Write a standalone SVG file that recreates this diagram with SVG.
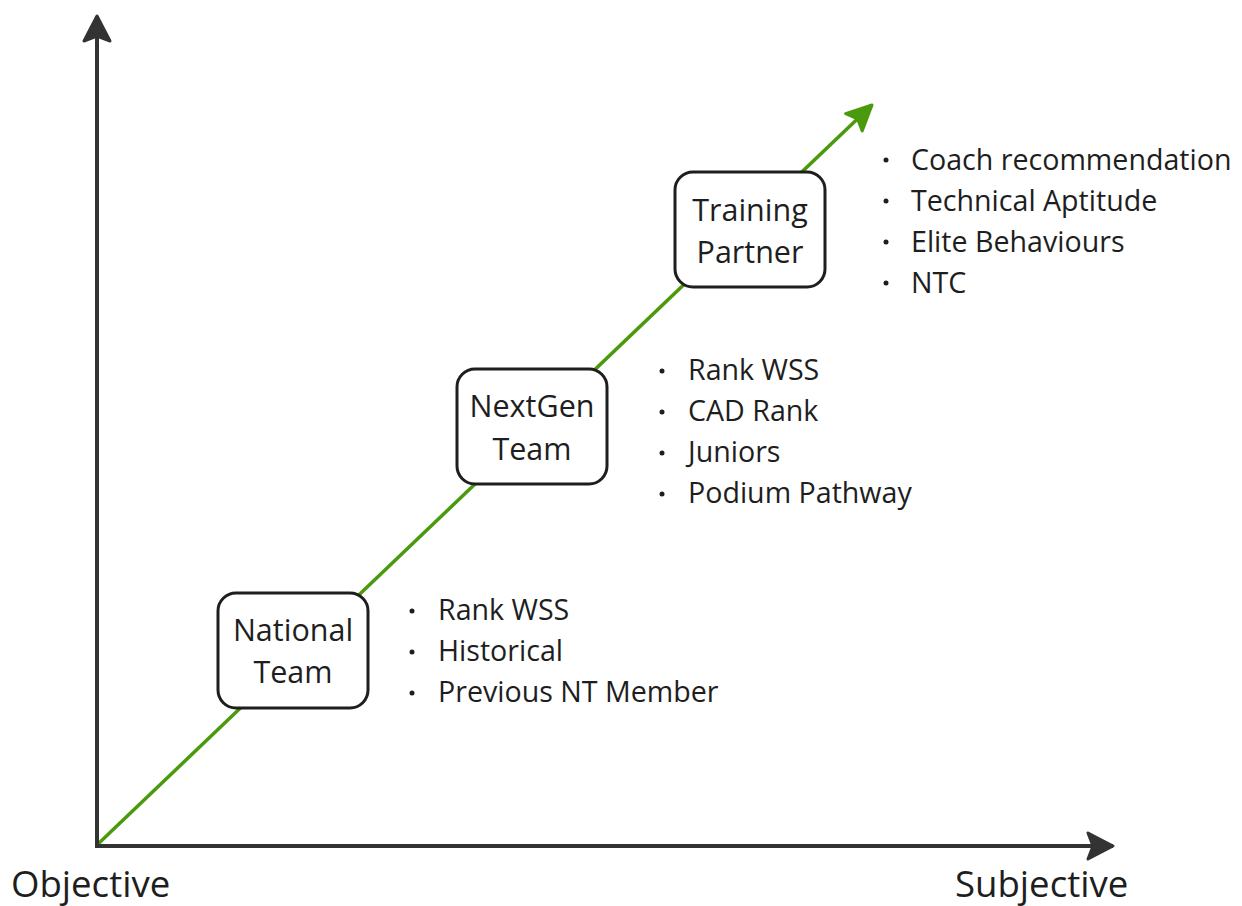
<svg xmlns="http://www.w3.org/2000/svg" width="1242" height="906" viewBox="0 0 1242 906">
  <style>
    .axis { stroke: #333333; stroke-width: 4; fill: none; }
    .trend { stroke: #4b9a0e; stroke-width: 3.5; fill: none; }
    .box { fill: #ffffff; stroke: #1e1e1e; stroke-width: 3; }
    .label { font-family: "Open Sans", "Liberation Sans", sans-serif; font-size: 30.5px; fill: #1e1e1e; text-anchor: middle; }
    .item { font-family: "Open Sans", "Liberation Sans", sans-serif; font-size: 28.6px; fill: #1e1e1e; }
    .axis-label { font-family: "Open Sans", "Liberation Sans", sans-serif; font-size: 36.6px; fill: #1e1e1e; }
    .dot { fill: #1e1e1e; }
  </style>
  <defs>
    <marker id="head-dark" markerUnits="userSpaceOnUse" markerWidth="40" markerHeight="40" viewBox="-4 -20 36 40" refX="25" refY="0" orient="auto">
      <path d="M 0 -13 L 25 0 L 0 13 L 5 0 Z" fill="#333333" stroke="#333333" stroke-width="3" stroke-linejoin="round"/>
    </marker>
    <marker id="head-green" markerUnits="userSpaceOnUse" markerWidth="40" markerHeight="40" viewBox="-4 -20 36 40" refX="25" refY="0" orient="auto">
      <path d="M 0 -12 L 25 0 L 0 12 L 5 0 Z" fill="#4b9a0e" stroke="#4b9a0e" stroke-width="3" stroke-linejoin="round"/>
    </marker>
  </defs>
  <rect width="1242" height="906" fill="#ffffff"/>

  <g id="connectors">
    <line class="trend" x1="98" y1="844" x2="872" y2="105" marker-end="url(#head-green)"/>
    <line class="axis" x1="97" y1="848" x2="97" y2="16" marker-end="url(#head-dark)"/>
    <line class="axis" x1="95" y1="846" x2="1113" y2="846" marker-end="url(#head-dark)"/>
  </g>

  <g id="axis-objective">
    <text class="axis-label" x="11" y="897">Objective</text>
  </g>
  <g id="axis-subjective">
    <text class="axis-label" x="955" y="897">Subjective</text>
  </g>

  <g id="national-team">
    <rect class="box" x="218" y="593" width="150" height="115" rx="18"/>
    <text class="label" x="293" y="641">National</text>
    <text class="label" x="293" y="683">Team</text>
  </g>
  <g id="national-team-criteria">
    <circle class="dot" cx="412" cy="611" r="2.5"/>
    <text class="item" x="438" y="620">Rank WSS</text>
    <circle class="dot" cx="412" cy="652" r="2.5"/>
    <text class="item" x="438" y="661">Historical</text>
    <circle class="dot" cx="412" cy="693" r="2.5"/>
    <text class="item" x="438" y="702">Previous NT Member</text>
  </g>

  <g id="nextgen-team">
    <rect class="box" x="457" y="369" width="150" height="115" rx="18"/>
    <text class="label" x="532" y="417">NextGen</text>
    <text class="label" x="532" y="460">Team</text>
  </g>
  <g id="nextgen-team-criteria">
    <circle class="dot" cx="662" cy="371" r="2.5"/>
    <text class="item" x="688" y="380">Rank WSS</text>
    <circle class="dot" cx="662" cy="412" r="2.5"/>
    <text class="item" x="688" y="421">CAD Rank</text>
    <circle class="dot" cx="662" cy="453" r="2.5"/>
    <text class="item" x="688" y="462">Juniors</text>
    <circle class="dot" cx="662" cy="494" r="2.5"/>
    <text class="item" x="688" y="503">Podium Pathway</text>
  </g>

  <g id="training-partner">
    <rect class="box" x="675" y="172" width="150" height="115" rx="18"/>
    <text class="label" x="750" y="221">Training</text>
    <text class="label" x="750" y="263">Partner</text>
  </g>
  <g id="training-partner-criteria">
    <circle class="dot" cx="886" cy="160" r="2.5"/>
    <text class="item" x="911" y="170">Coach recommendation</text>
    <circle class="dot" cx="886" cy="201" r="2.5"/>
    <text class="item" x="911" y="211">Technical Aptitude</text>
    <circle class="dot" cx="886" cy="242" r="2.5"/>
    <text class="item" x="911" y="252">Elite Behaviours</text>
    <circle class="dot" cx="886" cy="283" r="2.5"/>
    <text class="item" x="911" y="293">NTC</text>
  </g>
</svg>
